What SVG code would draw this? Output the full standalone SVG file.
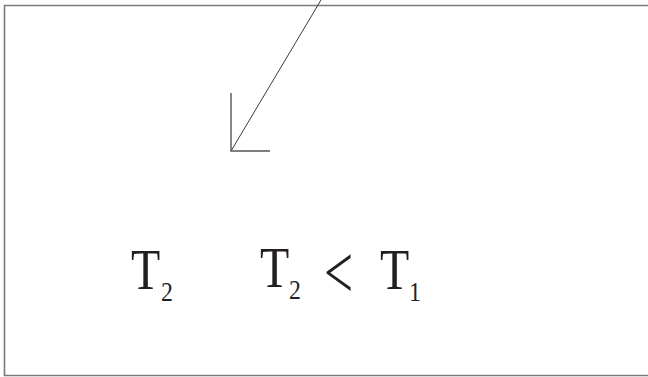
<svg xmlns="http://www.w3.org/2000/svg" width="648" height="377" viewBox="0 0 648 377">
<style>
.frame{fill:none;stroke:#7a7a7a;stroke-width:1.6}
.ln{fill:none;stroke:#3a3a3a;stroke-width:1}
.head{fill:none;stroke:#555;stroke-width:1.4}
.big{font-family:"Liberation Serif","Times New Roman",serif;font-size:57px;fill:#231f20}
.sub{font-family:"Liberation Serif","Times New Roman",serif;font-size:28px;fill:#231f20}
.op{font-family:"Liberation Serif","Times New Roman",serif;font-size:77px;fill:#231f20}
</style>
<g id="frame"><path class="frame" d="M652,5.5 H4.5 V375.5 H652"/></g>
<g id="connectors">
<line class="ln" x1="321" y1="0" x2="231" y2="151"/>
<polyline class="head" points="231,93 231,151 270,151"/>
</g>
<g id="label-t2">
<text class="big" transform="translate(131,289) scale(0.84,1)">T</text>
<text class="sub" transform="translate(161,301) scale(0.85,1)">2</text>
</g>
<g id="label-relation">
<text class="big" transform="translate(260,287) scale(0.84,1)">T</text>
<text class="sub" transform="translate(289,299) scale(0.85,1)">2</text>
<text class="op" transform="translate(324,298) scale(0.67,1)">&lt;</text>
<text class="big" transform="translate(380,289) scale(0.84,1)">T</text>
<text class="sub" transform="translate(409,301) scale(0.85,1)">1</text>
</g>
</svg>
